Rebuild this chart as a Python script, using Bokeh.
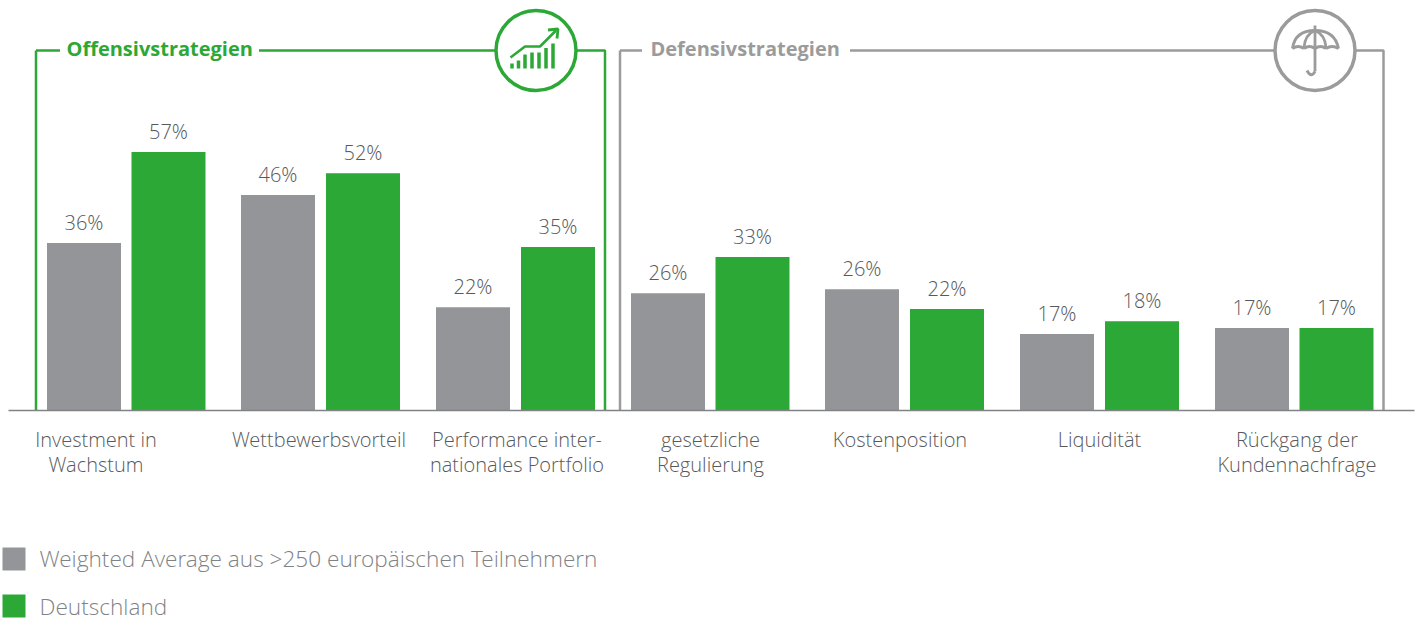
from bokeh.plotting import figure
from bokeh.models import Range1d, LinearAxis, FixedTicker
from bokeh.core.properties import value
from bokeh.embed import file_html
from bokeh.resources import INLINE

categories = ["Investment in\nWachstum", "Wettbewerbsvorteil", "Performance inter-\nnationales Portfolio",
              "gesetzliche\nRegulierung", "Kostenposition", "Liquidität", "Rückgang der\nKundennachfrage"]
avg_values = [36.9, 47.5, 22.7, 25.8, 26.7, 16.8, 18.1]
de_values = [57.0, 52.3, 36.0, 33.8, 22.3, 19.6, 18.1]
avg_labels = ["36%", "46%", "22%", "26%", "26%", "17%", "17%"]
de_labels = ["57%", "52%", "35%", "33%", "22%", "18%", "17%"]
legend_labels = ["Weighted Average aus >250 europäischen Teilnehmern", "Deutschland"]

GREY = "#939598"; GREEN = "#2ca836"; FRAME = "#9b9b9b"
LIGHT = "Open Sans Light"
PX_PER_PCT = 4.53
BASE = 409.6
avg_x = [84, 278, 473, 668, 862, 1057, 1252]
de_x = [168.5, 363, 558, 752.5, 947, 1142, 1336.5]
tick_x = [96, 319, 517, 710.5, 900, 1099.5, 1297]

p = figure(width=1420, height=619, output_backend="svg", toolbar_location=None, min_border=0,
           x_range=Range1d(0.5, 1420.5), y_range=Range1d((BASE - 619) / PX_PER_PCT, BASE / PX_PER_PCT),
           x_axis_type=None, y_axis_type=None, outline_line_color=None,
           styles={"position": "absolute", "left": "0px", "top": "0px"})
p.grid.visible = False
p.extra_y_ranges["px"] = Range1d(619, 0)

# bars
p.vbar(x=avg_x, top=avg_values, bottom=0, width=74, fill_color=GREY, line_color=None)
p.vbar(x=de_x, top=de_values, bottom=0, width=74, fill_color=GREEN, line_color=None)

# category axis along the baseline
ax = LinearAxis(fixed_location=0, ticker=FixedTicker(ticks=tick_x),
                major_label_overrides={t: c for t, c in zip(tick_x, categories)},
                major_tick_line_color=None, minor_tick_line_color=None,
                axis_line_color="#808285", axis_line_width=1.5, bounds=(8, 1414),
                major_label_standoff=10, major_label_text_font=LIGHT,
                major_label_text_font_size="20px", major_label_text_color="#58595b",
                major_label_text_line_height=0.92)
p.add_layout(ax, "below")

# value labels
for xs, vals, labs in ((avg_x, avg_values, avg_labels), (de_x, de_values, de_labels)):
    p.text(x=xs, y=vals, text=labs, y_offset=-20.5, text_align="center", text_baseline="middle",
           text_font=value(LIGHT), text_font_size="20px", text_color="#58595b")

# section frames
def frame(color, left, right, t1, t2, cx):
    kw = dict(line_color=color, line_width=2.5, y_range_name="px")
    p.line([left, left], [410, 50], **kw)
    p.line([left, t1], [50, 50], **kw)
    p.line([t2, cx - 41], [50, 50], **kw)
    p.line([cx + 41, right, right], [50, 50, 410], **kw)
    p.circle(x=[cx], y=[50], radius=40, fill_color=None, line_color=color, line_width=3.5, y_range_name="px")

frame(GREEN, 36, 605, 60, 259, 536)
frame(FRAME, 620, 1383.5, 642, 850, 1315)

p.text(x=[66.5], y=[47.5], text=["Offensivstrategien"], text_baseline="middle", text_font=value("Open Sans"),
       text_font_style="bold", text_font_size="20px", text_color=GREEN, y_range_name="px")
p.text(x=[650.5], y=[47.5], text=["Defensivstrategien"], text_baseline="middle", text_font=value("Open Sans"),
       text_font_style="bold", text_font_size="20px", text_color=FRAME, y_range_name="px")

# growth icon
p.segment(x0=[512, 518.5, 525, 532, 539, 546, 553], x1=[512, 518.5, 525, 532, 539, 546, 553],
          y0=[68] * 7, y1=[63, 60, 54, 52, 52, 47.5, 43], line_color=GREEN, line_width=3.5, y_range_name="px")
p.line([510.5, 525, 540, 556], [57, 46, 46, 30], line_color=GREEN, line_width=2.5, y_range_name="px")
p.line([548, 558, 557], [29.5, 28.5, 38], line_color=GREEN, line_width=2.8, y_range_name="px")

# umbrella icon
uk = dict(line_color=FRAME, line_width=2.8, y_range_name="px")
p.quadratic(x0=[1292.5, 1304, 1326], y0=[48, 47, 47], x1=[1315, 1315, 1315], y1=[30, 30, 30],
            cx=[1295, 1305, 1325], cy=[30, 34, 34], **uk)
p.quadratic(x0=[1315], y0=[30], x1=[1338.5], y1=[48], cx=[1335], cy=[30], **uk)
p.quadratic(x0=[1292.5, 1304, 1315, 1326], y0=[48] * 4, x1=[1304, 1315, 1326, 1338.5], y1=[48] * 4,
            cx=[1298, 1309.5, 1320.5, 1332], cy=[44, 44, 44, 44], **uk)
p.line([1315, 1315], [25, 71], **uk)
p.quadratic(x0=[1315], y0=[71], x1=[1307], y1=[70], cx=[1311], cy=[78], **uk)

# legend
p.rect(x=[14, 14], y=[558.5, 605.5], width=23, height=23, height_units="screen",
       fill_color=[GREY, GREEN], line_color=None, y_range_name="px")
p.text(x=[39.5, 39.5], y=[558, 605.5], text=legend_labels, text_baseline="middle", text_font=value(LIGHT),
       text_font_size="22.6px", text_color="#808285", y_range_name="px")

open("out.html", "w").write(file_html(p, INLINE))
